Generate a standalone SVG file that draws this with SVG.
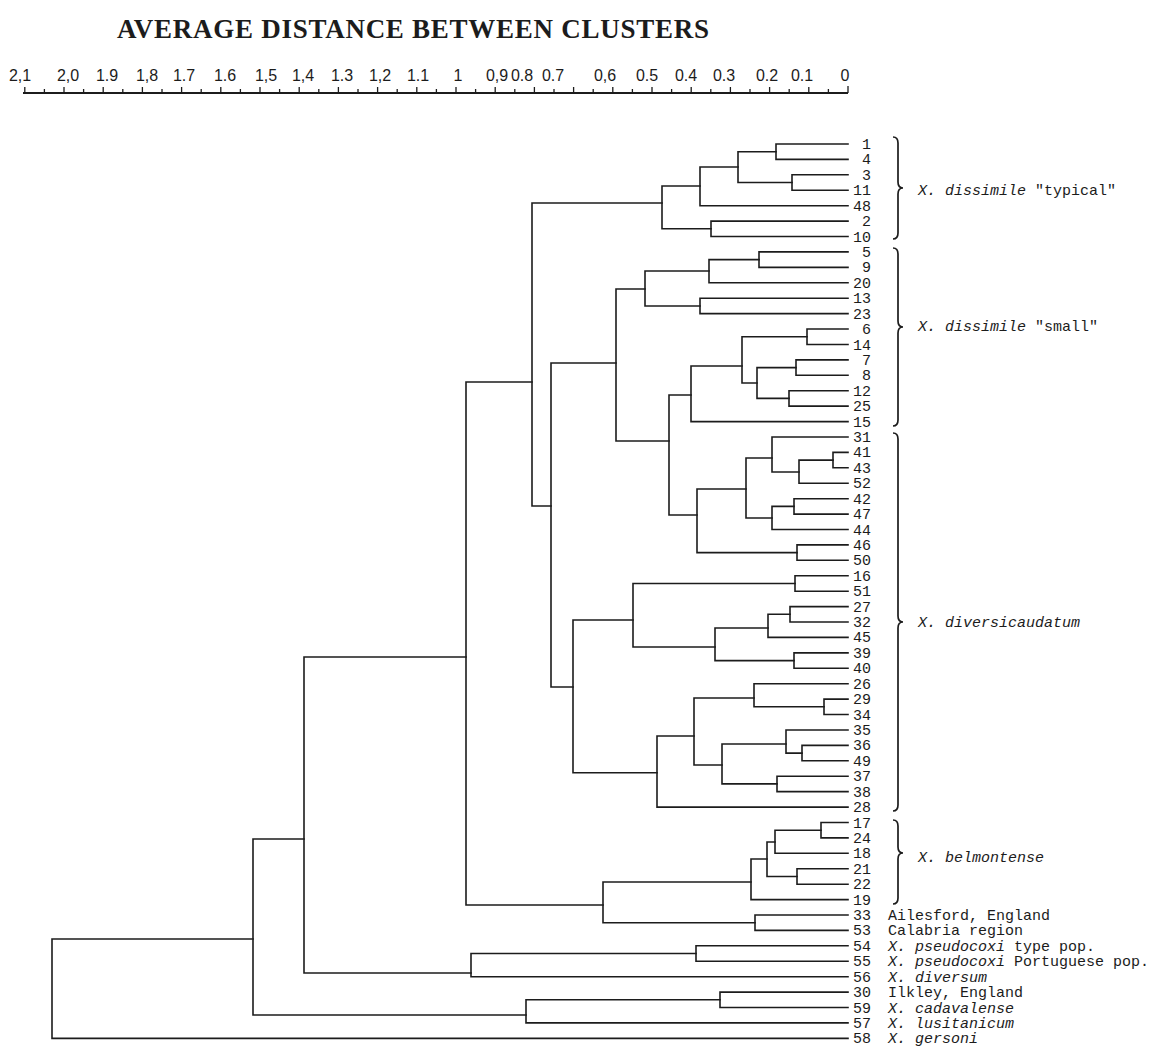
<svg xmlns="http://www.w3.org/2000/svg" width="1158" height="1050" viewBox="0 0 1158 1050">
<style>
.ln{fill:none;stroke:#1c1c1c;stroke-width:1.6;stroke-linecap:square}
.br{fill:none;stroke:#1c1c1c;stroke-width:1.7}
.ax{fill:none;stroke:#1c1c1c;stroke-width:2}
.tk{fill:none;stroke:#1c1c1c;stroke-width:1.3}
.num{font-family:"Liberation Mono","DejaVu Sans Mono",monospace;font-size:15px;fill:#1c1c1c;text-anchor:end}
.lab{font-family:"Liberation Mono","DejaVu Sans Mono",monospace;font-size:15px;fill:#1c1c1c}
.it{font-style:italic}
.axl{font-family:"Liberation Sans",Arial,sans-serif;font-size:16px;fill:#1c1c1c;text-anchor:middle}
.title{font-family:"Liberation Serif","Times New Roman",serif;font-weight:bold;font-size:27px;fill:#1c1c1c}
</style>
<rect width="1158" height="1050" fill="#ffffff"/>
<text class="title" x="117" y="38" textLength="592" lengthAdjust="spacing">AVERAGE DISTANCE BETWEEN CLUSTERS</text>
<g id="axis">
<path class="ax" d="M23 93 H848"/>
<path class="tk" d="M848 93V86 M828.4 93V89 M808.8 93V87 M789.2 93V89 M769.6 93V87 M750 93V89 M730.4 93V87 M710.8 93V89 M691.2 93V87 M671.6 93V89 M652 93V87 M632.4 93V89 M612.8 93V87 M593.2 93V89 M573.6 93V87 M554 93V89 M534.4 93V87 M514.8 93V89 M495.2 93V87 M475.6 93V89 M456 93V87 M436.4 93V89 M416.8 93V87 M397.2 93V89 M377.6 93V87 M358 93V89 M338.4 93V87 M318.8 93V89 M299.2 93V87 M279.6 93V89 M260 93V87 M240.4 93V89 M220.8 93V87 M201.2 93V89 M181.6 93V87 M162 93V89 M142.4 93V87 M122.8 93V89 M103.2 93V87 M83.6 93V89 M64 93V87 M44.4 93V89 M24.8 93V87"/>
<text class="axl" x="20" y="81">2,1</text>
<text class="axl" x="68" y="81">2,0</text>
<text class="axl" x="107" y="81">1.9</text>
<text class="axl" x="147" y="81">1,8</text>
<text class="axl" x="184" y="81">1.7</text>
<text class="axl" x="225" y="81">1.6</text>
<text class="axl" x="266" y="81">1,5</text>
<text class="axl" x="303" y="81">1,4</text>
<text class="axl" x="342" y="81">1.3</text>
<text class="axl" x="380" y="81">1,2</text>
<text class="axl" x="418" y="81">1.1</text>
<text class="axl" x="458" y="81">1</text>
<text class="axl" x="497" y="81">0,9</text>
<text class="axl" x="522" y="81">0.8</text>
<text class="axl" x="553" y="81">0.7</text>
<text class="axl" x="605" y="81">0,6</text>
<text class="axl" x="647" y="81">0.5</text>
<text class="axl" x="686" y="81">0.4</text>
<text class="axl" x="724" y="81">0.3</text>
<text class="axl" x="767" y="81">0.2</text>
<text class="axl" x="802" y="81">0.1</text>
<text class="axl" x="845" y="81">0</text>
</g>
<g id="connectors">
<path class="ln" d="M848 144 H776 V159.4 H848"/>
<path class="ln" d="M848 174.8 H792 V190.3 H848"/>
<path class="ln" d="M776 151.7 H738 V182.5 H792"/>
<path class="ln" d="M738 167 H700 V205.7 H848"/>
<path class="ln" d="M848 221.1 H711 V236.5 H848"/>
<path class="ln" d="M700 186 H662 V228.8 H711"/>
<path class="ln" d="M848 251.9 H759 V267.4 H848"/>
<path class="ln" d="M759 259.6 H709 V282.8 H848"/>
<path class="ln" d="M848 298.2 H700 V313.6 H848"/>
<path class="ln" d="M709 271 H645 V306 H700"/>
<path class="ln" d="M848 329 H807 V344.5 H848"/>
<path class="ln" d="M848 359.9 H796 V375.3 H848"/>
<path class="ln" d="M848 390.7 H789 V406.1 H848"/>
<path class="ln" d="M796 367.6 H757 V398.4 H789"/>
<path class="ln" d="M807 336.7 H742 V383 H757"/>
<path class="ln" d="M742 366 H691 V421.6 H848"/>
<path class="ln" d="M848 452.4 H833 V467.8 H848"/>
<path class="ln" d="M833 460.1 H799 V483.2 H848"/>
<path class="ln" d="M848 437 H772 V472 H799"/>
<path class="ln" d="M848 498.7 H794 V514.1 H848"/>
<path class="ln" d="M794 506.4 H772 V529.5 H848"/>
<path class="ln" d="M772 458 H746 V518 H772"/>
<path class="ln" d="M848 544.9 H797 V560.3 H848"/>
<path class="ln" d="M746 489 H697 V552.6 H797"/>
<path class="ln" d="M691 395 H669 V515 H697"/>
<path class="ln" d="M645 289 H616 V441 H669"/>
<path class="ln" d="M848 575.8 H795 V591.2 H848"/>
<path class="ln" d="M848 606.6 H790 V622 H848"/>
<path class="ln" d="M790 614.3 H768 V637.4 H848"/>
<path class="ln" d="M848 652.9 H794 V668.3 H848"/>
<path class="ln" d="M768 628 H715 V660.6 H794"/>
<path class="ln" d="M795 583.5 H633 V647 H715"/>
<path class="ln" d="M848 699.1 H824 V714.5 H848"/>
<path class="ln" d="M848 683.7 H754 V706.8 H824"/>
<path class="ln" d="M848 745.4 H802 V760.8 H848"/>
<path class="ln" d="M848 730 H786 V753.1 H802"/>
<path class="ln" d="M848 776.2 H777 V791.6 H848"/>
<path class="ln" d="M786 744 H722 V783.9 H777"/>
<path class="ln" d="M754 698 H694 V765 H722"/>
<path class="ln" d="M694 736 H657 V807.1 H848"/>
<path class="ln" d="M633 620 H573 V772.7 H657"/>
<path class="ln" d="M616 363 H551 V687 H573"/>
<path class="ln" d="M662 203 H532 V506 H551"/>
<path class="ln" d="M848 822.5 H821 V837.9 H848"/>
<path class="ln" d="M821 830.2 H775 V853.3 H848"/>
<path class="ln" d="M848 868.7 H797 V884.2 H848"/>
<path class="ln" d="M775 842 H767 V876.5 H797"/>
<path class="ln" d="M767 859 H751 V899.6 H848"/>
<path class="ln" d="M848 915 H755 V930.4 H848"/>
<path class="ln" d="M751 882 H603 V922.7 H755"/>
<path class="ln" d="M532 382 H466 V905 H603"/>
<path class="ln" d="M848 945.8 H696 V961.3 H848"/>
<path class="ln" d="M696 953.5 H471 V976.7 H848"/>
<path class="ln" d="M466 657 H304 V973 H471"/>
<path class="ln" d="M848 992.1 H720 V1007.5 H848"/>
<path class="ln" d="M720 999.8 H526 V1022.9 H848"/>
<path class="ln" d="M304 839 H253 V1015 H526"/>
<path class="ln" d="M253 939 H52 V1038.4 H848"/>
</g>
<g id="leaves">
<g id="leaf-1"><text class="num" x="871" y="149">1</text></g>
<g id="leaf-4"><text class="num" x="871" y="164.4">4</text></g>
<g id="leaf-3"><text class="num" x="871" y="179.8">3</text></g>
<g id="leaf-11"><text class="num" x="871" y="195.3">11</text></g>
<g id="leaf-48"><text class="num" x="871" y="210.7">48</text></g>
<g id="leaf-2"><text class="num" x="871" y="226.1">2</text></g>
<g id="leaf-10"><text class="num" x="871" y="241.5">10</text></g>
<g id="leaf-5"><text class="num" x="871" y="256.9">5</text></g>
<g id="leaf-9"><text class="num" x="871" y="272.4">9</text></g>
<g id="leaf-20"><text class="num" x="871" y="287.8">20</text></g>
<g id="leaf-13"><text class="num" x="871" y="303.2">13</text></g>
<g id="leaf-23"><text class="num" x="871" y="318.6">23</text></g>
<g id="leaf-6"><text class="num" x="871" y="334">6</text></g>
<g id="leaf-14"><text class="num" x="871" y="349.5">14</text></g>
<g id="leaf-7"><text class="num" x="871" y="364.9">7</text></g>
<g id="leaf-8"><text class="num" x="871" y="380.3">8</text></g>
<g id="leaf-12"><text class="num" x="871" y="395.7">12</text></g>
<g id="leaf-25"><text class="num" x="871" y="411.1">25</text></g>
<g id="leaf-15"><text class="num" x="871" y="426.6">15</text></g>
<g id="leaf-31"><text class="num" x="871" y="442">31</text></g>
<g id="leaf-41"><text class="num" x="871" y="457.4">41</text></g>
<g id="leaf-43"><text class="num" x="871" y="472.8">43</text></g>
<g id="leaf-52"><text class="num" x="871" y="488.2">52</text></g>
<g id="leaf-42"><text class="num" x="871" y="503.7">42</text></g>
<g id="leaf-47"><text class="num" x="871" y="519.1">47</text></g>
<g id="leaf-44"><text class="num" x="871" y="534.5">44</text></g>
<g id="leaf-46"><text class="num" x="871" y="549.9">46</text></g>
<g id="leaf-50"><text class="num" x="871" y="565.3">50</text></g>
<g id="leaf-16"><text class="num" x="871" y="580.8">16</text></g>
<g id="leaf-51"><text class="num" x="871" y="596.2">51</text></g>
<g id="leaf-27"><text class="num" x="871" y="611.6">27</text></g>
<g id="leaf-32"><text class="num" x="871" y="627">32</text></g>
<g id="leaf-45"><text class="num" x="871" y="642.4">45</text></g>
<g id="leaf-39"><text class="num" x="871" y="657.9">39</text></g>
<g id="leaf-40"><text class="num" x="871" y="673.3">40</text></g>
<g id="leaf-26"><text class="num" x="871" y="688.7">26</text></g>
<g id="leaf-29"><text class="num" x="871" y="704.1">29</text></g>
<g id="leaf-34"><text class="num" x="871" y="719.5">34</text></g>
<g id="leaf-35"><text class="num" x="871" y="735">35</text></g>
<g id="leaf-36"><text class="num" x="871" y="750.4">36</text></g>
<g id="leaf-49"><text class="num" x="871" y="765.8">49</text></g>
<g id="leaf-37"><text class="num" x="871" y="781.2">37</text></g>
<g id="leaf-38"><text class="num" x="871" y="796.6">38</text></g>
<g id="leaf-28"><text class="num" x="871" y="812.1">28</text></g>
<g id="leaf-17"><text class="num" x="871" y="827.5">17</text></g>
<g id="leaf-24"><text class="num" x="871" y="842.9">24</text></g>
<g id="leaf-18"><text class="num" x="871" y="858.3">18</text></g>
<g id="leaf-21"><text class="num" x="871" y="873.7">21</text></g>
<g id="leaf-22"><text class="num" x="871" y="889.2">22</text></g>
<g id="leaf-19"><text class="num" x="871" y="904.6">19</text></g>
<g id="leaf-33"><text class="num" x="871" y="920">33</text><text class="lab" x="888" y="920">Ailesford, England</text></g>
<g id="leaf-53"><text class="num" x="871" y="935.4">53</text><text class="lab" x="888" y="935.4">Calabria region</text></g>
<g id="leaf-54"><text class="num" x="871" y="950.8">54</text><text class="lab" x="888" y="950.8"><tspan class="it">X. pseudocoxi</tspan> type pop.</text></g>
<g id="leaf-55"><text class="num" x="871" y="966.3">55</text><text class="lab" x="888" y="966.3"><tspan class="it">X. pseudocoxi</tspan> Portuguese pop.</text></g>
<g id="leaf-56"><text class="num" x="871" y="981.7">56</text><text class="lab it" x="888" y="981.7">X. diversum</text></g>
<g id="leaf-30"><text class="num" x="871" y="997.1">30</text><text class="lab" x="888" y="997.1">Ilkley, England</text></g>
<g id="leaf-59"><text class="num" x="871" y="1012.5">59</text><text class="lab it" x="888" y="1012.5">X. cadavalense</text></g>
<g id="leaf-57"><text class="num" x="871" y="1027.9">57</text><text class="lab it" x="888" y="1027.9">X. lusitanicum</text></g>
<g id="leaf-58"><text class="num" x="871" y="1043.4">58</text><text class="lab it" x="888" y="1043.4">X. gersoni</text></g>
</g>
<g id="group-typical">
<path class="br" d="M893 137 Q898 137 898 143 V182 Q898 188 903 188 Q898 188 898 194 V233 Q898 239 893 239"/>
<text class="lab" x="918" y="195"><tspan class="it">X. dissimile</tspan> "typical"</text>
</g>
<g id="group-small">
<path class="br" d="M893 248 Q898 248 898 254 V321 Q898 327 903 327 Q898 327 898 333 V420 Q898 426 893 426"/>
<text class="lab" x="918" y="331"><tspan class="it">X. dissimile</tspan> "small"</text>
</g>
<g id="group-diversicaudatum">
<path class="br" d="M893 433 Q898 433 898 439 V616 Q898 622 903 622 Q898 622 898 628 V805 Q898 811 893 811"/>
<text class="lab it" x="918" y="627">X. diversicaudatum</text>
</g>
<g id="group-belmontense">
<path class="br" d="M893 820 Q898 820 898 826 V847 Q898 853 903 853 Q898 853 898 859 V898 Q898 904 893 904"/>
<text class="lab it" x="918" y="862">X. belmontense</text>
</g>
</svg>
